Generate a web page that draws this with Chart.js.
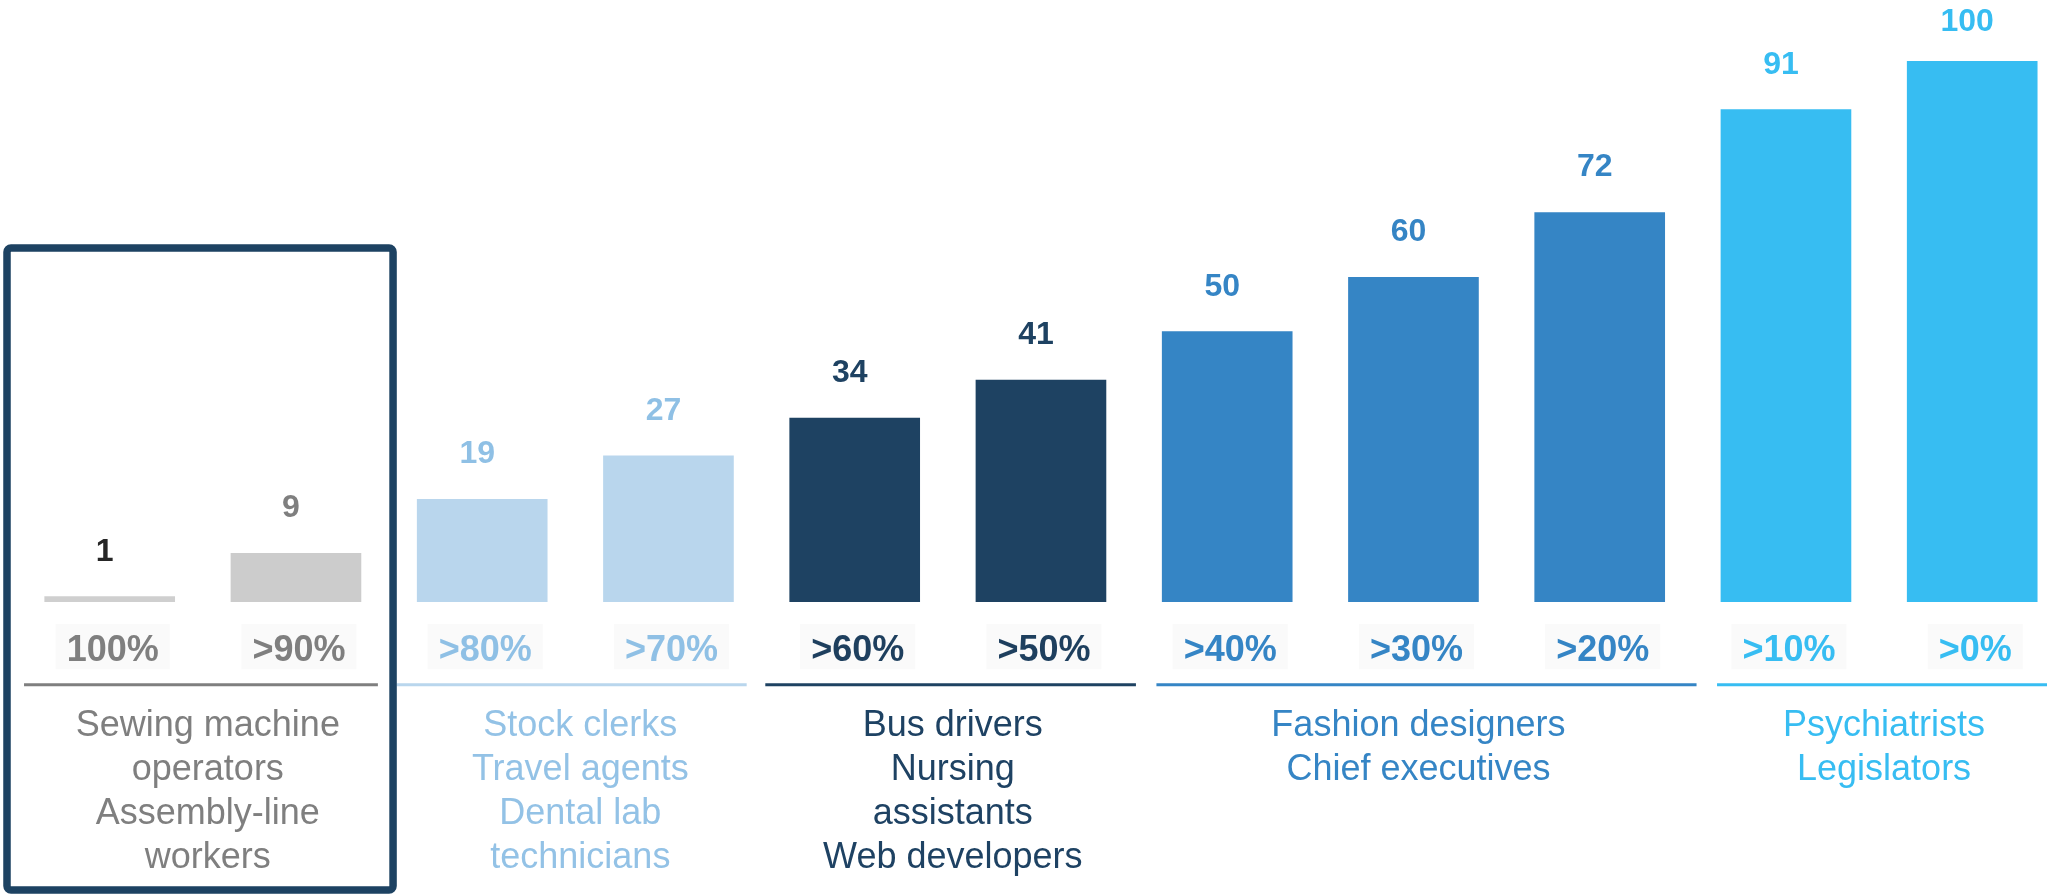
<!DOCTYPE html>
<html>
<head>
<meta charset="utf-8">
<script src="https://cdn.jsdelivr.net/npm/chart.js@4.4.1/dist/chart.umd.min.js"></script>
<style>
  html, body { margin: 0; padding: 0; background: #ffffff; overflow: hidden; }
  #wrap { position: relative; width: 2047px; height: 894px; }
</style>
</head>
<body>
<div id="wrap"><canvas id="chart" width="2047" height="894"></canvas></div>
<script>
// Automation risk bands (tick labels) and the share value shown on each bar
const categories = ['100%', '>90%', '>80%', '>70%', '>60%', '>50%', '>40%', '>30%', '>20%', '>10%', '>0%'];
const values = [1, 9, 19, 27, 34, 41, 50, 60, 72, 91, 100];

// Occupation groups spanning the bands
const groupFirst = [0, 2, 4, 6, 9];
const groupLast = [1, 3, 5, 8, 10];
const groupLabels = [
  ['Sewing machine', 'operators', 'Assembly-line', 'workers'],
  ['Stock clerks', 'Travel agents', 'Dental lab', 'technicians'],
  ['Bus drivers', 'Nursing', 'assistants', 'Web developers'],
  ['Fashion designers', 'Chief executives'],
  ['Psychiatrists', 'Legislators']
];

// Styling
const barColors = ['#cfcfcf', '#cccccc', '#b9d6ed', '#b9d6ed', '#1e4262', '#1e4262',
                   '#3585c5', '#3585c5', '#3585c5', '#37bdf2', '#37bdf2'];
const valueColors = ['#262626', '#7f7f7f', '#8fc0e5', '#8fc0e5', '#1e4262', '#1e4262',
                     '#3585c5', '#3585c5', '#3585c5', '#37bdf2', '#37bdf2'];
const tickColors = ['#7f7f7f', '#7f7f7f', '#8fc0e5', '#8fc0e5', '#1e3f5e', '#1e3f5e',
                    '#3585c5', '#3585c5', '#3585c5', '#37bdf2', '#37bdf2'];
const groupColors = ['#7f7f7f', '#93c2e6', '#1e4263', '#3585c5', '#37bdf2'];
const groupLineColors = ['#7f7f7f', '#b9d6ed', '#1e4262', '#3585c5', '#37bdf2'];
// line extents around each group, in band units
const groupLineSpan = [[-0.46, 0.44], [-0.46, 0.42], [-0.48, 0.51], [-0.38, 0.52], [-0.37, 0.6]];

const FONT = '"Liberation Sans", Arial, Helvetica, sans-serif';

const annotate = {
  id: 'annotate',
  afterDatasetsDraw(chart) {
    const ctx = chart.ctx;
    const xs = chart.scales.x;
    const ys = chart.scales.y;
    const base = ys.getPixelForValue(0);
    const meta = chart.getDatasetMeta(0);

    ctx.save();
    ctx.textAlign = 'center';
    ctx.textBaseline = 'alphabetic';

    // value labels above bars
    ctx.font = 'bold 32px ' + FONT;
    meta.data.forEach((bar, i) => {
      const y = Math.max(bar.y - 36, 31);
      ctx.fillStyle = valueColors[i];
      ctx.fillText(String(values[i]), bar.x - 5, y);
    });

    // band labels with a faint backdrop
    ctx.font = 'bold 36px ' + FONT;
    const tickBase = base + 58.7;
    categories.forEach((lab, i) => {
      const cx = xs.getPixelForValue(i) + 3;
      const w = ctx.measureText(lab).width + 22;
      ctx.fillStyle = '#fafafa';
      ctx.fillRect(cx - w / 2, tickBase - 36.7, w, 45.3);
      ctx.fillStyle = tickColors[i];
      ctx.fillText(lab, cx, tickBase);
    });

    // group rules and occupation names
    const lineY = base + 82.7;
    ctx.font = '36px ' + FONT;
    groupFirst.forEach((f, g) => {
      const l = groupLast[g];
      const x0 = xs.getPixelForValue(f + groupLineSpan[g][0]);
      const x1 = Math.min(xs.getPixelForValue(l + groupLineSpan[g][1]), chart.width);
      ctx.strokeStyle = groupLineColors[g];
      ctx.lineWidth = 3;
      ctx.beginPath();
      ctx.moveTo(x0, lineY);
      ctx.lineTo(x1, lineY);
      ctx.stroke();

      const cx = (xs.getPixelForValue(f) + xs.getPixelForValue(l)) / 2 + 5;
      ctx.fillStyle = groupColors[g];
      groupLabels[g].forEach((t, k) => {
        ctx.fillText(t, cx, base + 134 + k * 44);
      });
    });

    // highlight frame around the first group
    const bx0 = xs.getPixelForValue(groupFirst[0]) - 102.7;
    const bx1 = xs.getPixelForValue(groupLast[0]) + 97.1;
    const by0 = ys.getPixelForValue(values[values.length - 1]) + 187;
    const by1 = chart.height - 4;
    ctx.strokeStyle = '#1d4262';
    ctx.lineWidth = 7.5;
    ctx.lineJoin = 'round';
    ctx.beginPath();
    ctx.roundRect(bx0, by0, bx1 - bx0, by1 - by0, 4);
    ctx.stroke();

    ctx.restore();
  }
};

new Chart(document.getElementById('chart'), {
  type: 'bar',
  data: {
    labels: categories,
    datasets: [{
      data: values.map((v, i) => ({ x: i, y: v })),
      backgroundColor: barColors,
      borderWidth: 0,
      barThickness: 130
    }]
  },
  options: {
    responsive: false,
    animation: false,
    devicePixelRatio: 1,
    layout: { padding: { top: 61, bottom: 292, left: 0, right: 0 } },
    plugins: {
      legend: { display: false },
      tooltip: { enabled: false }
    },
    scales: {
      x: {
        type: 'linear',
        display: false,
        min: -0.589,
        max: 10.4016,
        offset: false
      },
      y: {
        display: false,
        min: 0,
        max: 100
      }
    }
  },
  plugins: [annotate]
});
</script>
</body>
</html>
